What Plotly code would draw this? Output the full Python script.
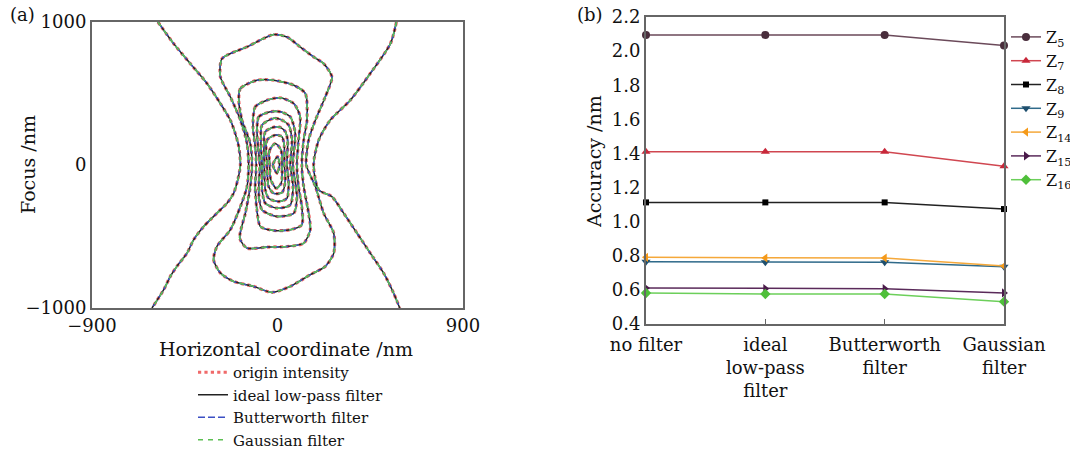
import plotly.graph_objects as go

# ---------------- Panel (a): traced contour lines (nm) ----------------
hour_left_x = [-580, -504, -423, -342, -277, -229, -205, -188, -180, -193, -213, -245, -294, -358, -407, -439, -488, -520, -552, -609]
hour_left_y = [1000, 849, 709, 570, 430, 314, 221, 128, 0, -105, -198, -267, -337, -430, -523, -616, -709, -779, -872, -1000]
hour_right_x = [577, 548, 450, 353, 256, 200, 175, 200, 264, 321, 386, 450, 515, 563, 593]
hour_right_y = [1000, 849, 640, 453, 314, 174, 0, -174, -221, -337, -477, -616, -756, -895, -1000]

loop1_x = [-19, -148, -269, -277, -229, -180, -148, -140, -148, -180, -229, -294, -310, -277, -213, -116, -27, 62, 159, 232, 273, 273, 224, 184, 140, 151, 184, 232, 264, 224, 175, 110, 46, -19]
loop1_y = [912, 826, 744, 616, 477, 314, 151, 0, -151, -291, -453, -570, -663, -756, -814, -849, -891, -849, -767, -709, -616, -477, -337, -151, 0, 174, 314, 477, 616, 709, 756, 826, 895, 912]
loop2_x = [-99, -180, -188, -172, -132, -124, -132, -156, -183, -148, -51, 46, 127, 159, 151, 127, 118, 127, 143, 135, 79, -19, -99]
loop2_y = [593, 535, 453, 314, 151, 0, -151, -337, -512, -581, -574, -570, -547, -453, -337, -151, 0, 174, 314, 500, 558, 593, 593]
loop3_x = [-51, -108, -119, -108, -103, -108, -100, -83, -19, 62, 118, 118, 102, 94, 102, 110, 79, 14, -51]
loop3_y = [453, 407, 267, 128, 0, -151, -314, -430, -458, -453, -419, -291, -151, 0, 174, 337, 430, 470, 453]
loop4_x = [-35, -91, -99, -86, -91, -75, -2, 79, 94, 75, 86, 62, 14, -35]
loop4_y = [372, 337, 221, 0, -198, -314, -360, -337, -221, 0, 221, 337, 372, 372]
loop5_x = [-19, -75, -80, -75, -75, -59, -2, 62, 75, 62, 70, 54, 14, -19]
loop5_y = [326, 279, 128, 0, -174, -267, -302, -279, -151, 0, 174, 279, 319, 326]
loop6_x = [-10, -59, -64, -59, -43, 5, 46, 54, 46, 49, 38, 14, -10]
loop6_y = [267, 233, 0, -174, -233, -256, -233, -128, 0, 174, 233, 263, 267]
loop7_x = [-10, -51, -51, -43, -19, 22, 38, 33, 33, 22, -10]
loop7_y = [209, 174, 0, -151, -198, -193, -105, 0, 128, 198, 209]
loop8_x = [-10, -38, -38, -32, -6, 18, 22, 17, -10]
loop8_y = [151, 105, 0, -105, -163, -128, 0, 105, 151]
loop9_x = [0, -22, -2, 10, 0]
loop9_y = [58, 0, -58, 0, 58]

filter_names = ["origin intensity", "ideal low-pass filter", "Butterworth filter", "Gaussian filter"]

# ---------------- Panel (b): accuracy ----------------
methods = ["no filter", "ideal<br>low-pass<br>filter", "Butterworth<br>filter", "Gaussian<br>filter"]
z5 = [2.095, 2.095, 2.095, 2.033]
z7 = [1.41, 1.41, 1.41, 1.325]
z8 = [1.113, 1.113, 1.113, 1.074]
z9 = [0.765, 0.762, 0.762, 0.736]
z14 = [0.791, 0.787, 0.787, 0.740]
z15 = [0.611, 0.607, 0.607, 0.582]
z16 = [0.582, 0.576, 0.576, 0.531]

FONT = "DejaVu Serif"

fig = go.Figure()

contours_x = [hour_left_x, hour_right_x, loop1_x, loop2_x, loop3_x, loop4_x, loop5_x, loop6_x, loop7_x, loop8_x, loop9_x]
contours_y = [hour_left_y, hour_right_y, loop1_y, loop2_y, loop3_y, loop4_y, loop5_y, loop6_y, loop7_y, loop8_y, loop9_y]

styles = {
    "origin intensity": dict(color="#f06a6a", width=3.2, dash="dot"),
    "ideal low-pass filter": dict(color="#222222", width=1.5, dash="solid"),
    "Butterworth filter": dict(color="#3b4fc4", width=1.6, dash="7px,3px"),
    "Gaussian filter": dict(color="#5cbf52", width=1.6, dash="5px,5px"),
}
for name in filter_names:
    first = True
    for cx, cy in zip(contours_x, contours_y):
        fig.add_trace(go.Scatter(x=cx, y=cy, mode="lines", name=name,
                                 line=dict(shape="spline", smoothing=0.7, **styles[name]),
                                 xaxis="x", yaxis="y", legend="legend", legendgroup=name,
                                 showlegend=first))
        first = False

series = [
    ("Z<sub>5</sub>", z5, "#6b4a5a", "#4a2e3c", "circle", 8),
    ("Z<sub>7</sub>", z7, "#d04650", "#c8283a", "triangle-up", 8),
    ("Z<sub>8</sub>", z8, "#222222", "#000000", "square", 6),
    ("Z<sub>9</sub>", z9, "#2f6a8a", "#1e4f6e", "triangle-down", 8),
    ("Z<sub>14</sub>", z14, "#f5a83a", "#f59a1a", "triangle-left", 8),
    ("Z<sub>15</sub>", z15, "#5a2a5a", "#4a1a4a", "triangle-right", 8),
    ("Z<sub>16</sub>", z16, "#6ccf5a", "#4fbf3a", "diamond", 8),
]
for name, vals, lc, mc, sym, ms in series:
    fig.add_trace(go.Scatter(x=methods, y=vals, mode="lines+markers", name=name,
                             line=dict(color=lc, width=1.5),
                             marker=dict(symbol=sym, size=ms, color=mc),
                             xaxis="x2", yaxis="y2", legend="legend2", cliponaxis=False))

axis_common = dict(showline=True, mirror=True, linecolor="#666666", linewidth=2, automargin=False,
                   showgrid=False, zeroline=False, tickfont=dict(family=FONT, size=18, color="#111"))

fig.update_layout(
    template="none",
    width=1070, height=449, margin=dict(l=0, r=0, t=0, b=0, autoexpand=False),
    paper_bgcolor="white", plot_bgcolor="white",
    font=dict(family=FONT, color="#111"),
    xaxis=dict(domain=[92/1070, 463/1070], range=[-900, 900], tickvals=[-900, 0, 900],
               ticks="", anchor="y", **axis_common),
    yaxis=dict(domain=[1-308/449, 1-22/449], range=[-1000, 1000], tickvals=[-1000, 0, 1000],
               ticks="", anchor="x", **axis_common),
    xaxis2=dict(domain=[646/1070, 1004/1070], range=[0, 3], type="category",
                ticks="inside", ticklen=5, tickcolor="#666", anchor="y2", ticklabelstandoff=3,
                **axis_common),
    yaxis2=dict(domain=[1-324/449, 1-17/449], range=[0.4, 2.2], dtick=0.2, tickformat=".1f",
                ticks="", anchor="x2", **axis_common),
    legend=dict(xref="container", yref="container", x=193/1070, y=1-356/449, xanchor="left", yanchor="top",
                font=dict(family=FONT, size=15, color="#111"), bgcolor="rgba(0,0,0,0)",
                itemwidth=30, tracegroupgap=0),
    legend2=dict(xref="container", yref="container", x=1006/1070, y=1-20/449, xanchor="left", yanchor="top",
                 font=dict(family=FONT, size=16, color="#111"), bgcolor="rgba(0,0,0,0)",
                 itemwidth=30, tracegroupgap=0),
    annotations=[
        dict(text="(a)", x=8/1070, y=1-14/449, xref="paper", yref="paper", showarrow=False,
             xanchor="left", yanchor="middle", font=dict(family=FONT, size=18)),
        dict(text="(b)", x=575/1070, y=1-15/449, xref="paper", yref="paper", showarrow=False,
             xanchor="left", yanchor="middle", font=dict(family=FONT, size=18)),
        dict(text="Focus /nm", x=28/1070, y=1-165/449, xref="paper", yref="paper", showarrow=False,
             textangle=-90, xanchor="center", yanchor="middle", font=dict(family=FONT, size=19)),
        dict(text="Horizontal coordinate /nm", x=286/1070, y=1-349/449, xref="paper", yref="paper",
             showarrow=False, xanchor="center", yanchor="middle", font=dict(family=FONT, size=19)),
        dict(text="Accuracy /nm", x=594/1070, y=1-162/449, xref="paper", yref="paper", showarrow=False,
             textangle=-90, xanchor="center", yanchor="middle", font=dict(family=FONT, size=19)),
    ],
)

fig.write_html("out.html", config={"displayModeBar": False},
               post_script="document.body.style.margin='0';document.body.style.overflow='hidden';")
